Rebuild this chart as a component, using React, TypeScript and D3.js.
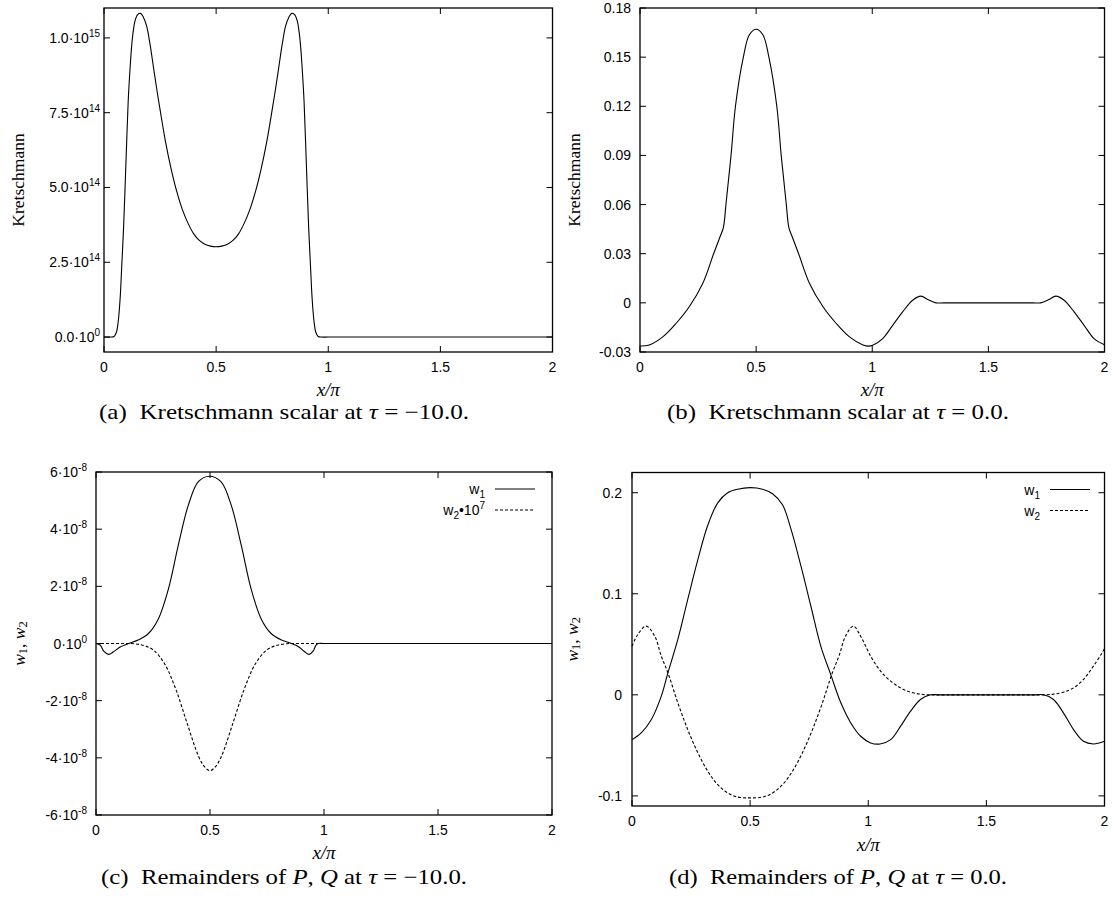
import * as d3 from "d3";
import type { ReactNode } from "react";

type Pt = [number, number];

// x axis (x / pi), shared by all four panels
const xTicks = [0, 0.5, 1, 1.5, 2];
const xTickLabels = ["0", "0.5", "1", "1.5", "2"];

// (a) Kretschmann scalar at tau = -10.0, in units of 1e14
const kretschA: Pt[] = [
  [0, 0], [0.03, 0], [0.045, 0.02], [0.055, 0.15], [0.064, 0.56], [0.072, 1.3],
  [0.079, 2.35], [0.087, 3.6], [0.094, 5.0], [0.101, 6.5], [0.108, 7.9], [0.116, 8.95],
  [0.123, 9.7], [0.13, 10.2], [0.138, 10.56], [0.15, 10.78], [0.163, 10.82], [0.175, 10.7],
  [0.19, 10.4], [0.205, 9.8], [0.22, 9.05], [0.235, 8.3], [0.25, 7.6], [0.275, 6.5],
  [0.3, 5.6], [0.325, 4.85], [0.35, 4.25], [0.375, 3.8], [0.4, 3.45], [0.425, 3.23],
  [0.45, 3.1], [0.475, 3.04], [0.5, 3.02], [0.525, 3.04], [0.55, 3.1], [0.575, 3.23],
  [0.6, 3.45], [0.625, 3.8], [0.65, 4.25], [0.675, 4.85], [0.7, 5.6], [0.725, 6.5],
  [0.75, 7.6], [0.765, 8.3], [0.78, 9.05], [0.795, 9.8], [0.81, 10.4], [0.825, 10.7],
  [0.837, 10.82], [0.85, 10.78], [0.862, 10.56], [0.87, 10.2], [0.877, 9.7], [0.884, 8.95],
  [0.892, 7.9], [0.899, 6.5], [0.906, 5.0], [0.913, 3.6], [0.921, 2.35], [0.928, 1.3],
  [0.936, 0.56], [0.945, 0.15], [0.955, 0.02], [0.97, 0], [1.0, 0], [2, 0],
];
const kretschATicks = [0, 2.5, 5, 7.5, 10];
const kretschATickLabels: [string, string][] = [
  ["0.0·10", "0"], ["2.5·10", "14"], ["5.0·10", "14"], ["7.5·10", "14"], ["1.0·10", "15"],
];

// (b) Kretschmann scalar at tau = 0.0
const kretschB: Pt[] = [
  [0, -0.0263], [0.04, -0.0257], [0.098, -0.0208], [0.155, -0.0126], [0.212, -0.0024],
  [0.27, 0.0118], [0.317, 0.03], [0.345, 0.0405], [0.359, 0.046], [0.37, 0.06],
  [0.381, 0.075], [0.392, 0.09], [0.411, 0.12], [0.445, 0.15], [0.471, 0.1637], [0.5, 0.167],
  [0.529, 0.1637], [0.555, 0.15], [0.589, 0.12], [0.608, 0.09], [0.619, 0.075], [0.63, 0.06],
  [0.641, 0.046], [0.655, 0.0405], [0.683, 0.03], [0.73, 0.0118], [0.788, -0.0024],
  [0.845, -0.0126], [0.902, -0.0208], [0.96, -0.0257], [0.985, -0.0264], [1.002, -0.0259],
  [1.045, -0.0218], [1.088, -0.0137], [1.131, -0.0055], [1.174, 0.0016], [1.21, 0.0041],
  [1.239, 0.002], [1.275, 0], [1.31, 0], [1.69, 0], [1.725, 0], [1.761, 0.002], [1.79, 0.0041],
  [1.826, 0.0016], [1.869, -0.0055], [1.912, -0.0137], [1.955, -0.0218], [2, -0.0255],
];
const kretschBTicks = [-0.03, 0, 0.03, 0.06, 0.09, 0.12, 0.15, 0.18];
const kretschBTickLabels: [string, string][] = [
  ["-0.03", ""], ["0", ""], ["0.03", ""], ["0.06", ""], ["0.09", ""], ["0.12", ""], ["0.15", ""], ["0.18", ""],
];

// (c) remainders at tau = -10.0, in units of 1e-8 (w2 already multiplied by 1e7)
const w1C: Pt[] = [
  [0, 0], [0.019, -0.06], [0.034, -0.27], [0.055, -0.38], [0.077, -0.29], [0.106, -0.12],
  [0.143, 0], [0.187, 0.13], [0.23, 0.35], [0.274, 0.87], [0.318, 1.92], [0.361, 3.44],
  [0.405, 4.84], [0.449, 5.66], [0.497, 5.85], [0.548, 5.66], [0.593, 4.84], [0.637, 3.44],
  [0.68, 1.92], [0.724, 0.87], [0.768, 0.35], [0.811, 0.13], [0.857, 0], [0.89, -0.12],
  [0.915, -0.29], [0.935, -0.38], [0.952, -0.27], [0.965, -0.06], [0.975, 0], [1.0, 0], [2, 0],
];
const w2C: Pt[] = [
  [0, 0], [0.12, 0], [0.15, 0], [0.2, -0.05], [0.25, -0.22], [0.3, -0.7], [0.35, -1.6], [0.4, -2.8],
  [0.45, -3.95], [0.475, -4.3], [0.5, -4.45], [0.525, -4.3], [0.55, -3.95], [0.6, -2.8],
  [0.65, -1.6], [0.7, -0.7], [0.75, -0.22], [0.8, -0.05], [0.85, 0], [0.88, 0], [2, 0],
];
const wCTicks = [-6, -4, -2, 0, 2, 4, 6];
const wCTickLabels: [string, string][] = [
  ["-6·10", "-8"], ["-4·10", "-8"], ["-2·10", "-8"], ["0·10", "0"], ["2·10", "-8"], ["4·10", "-8"], ["6·10", "-8"],
];

// (d) remainders at tau = 0.0
const w1D: Pt[] = [
  [0, -0.0443], [0.039, -0.0377], [0.082, -0.0244], [0.124, -0.0013], [0.152, 0.0218],
  [0.194, 0.0548], [0.236, 0.0945], [0.279, 0.134], [0.321, 0.168], [0.363, 0.19],
  [0.405, 0.2], [0.447, 0.2035], [0.5, 0.205], [0.553, 0.2035], [0.595, 0.199], [0.637, 0.188],
  [0.673, 0.164], [0.715, 0.1275], [0.757, 0.0879], [0.799, 0.0482], [0.841, 0.0202],
  [0.884, -0.0079], [0.926, -0.0278], [0.968, -0.041], [1.01, -0.0476], [1.05, -0.0486],
  [1.095, -0.0443], [1.137, -0.031], [1.179, -0.0162], [1.221, -0.0046], [1.264, 0],
  [1.3, 0], [1.7, 0], [1.742, 0], [1.784, -0.0046], [1.826, -0.0178], [1.869, -0.0344],
  [1.911, -0.046], [1.953, -0.0486], [2, -0.046],
];
const w2D: Pt[] = [
  [0, 0.0482], [0.025, 0.0598], [0.06, 0.068], [0.096, 0.0581], [0.124, 0.0383], [0.152, 0.0218],
  [0.194, -0.0079], [0.236, -0.0344], [0.279, -0.0575], [0.321, -0.0757], [0.363, -0.0889],
  [0.405, -0.0971], [0.447, -0.1011], [0.5, -0.102], [0.553, -0.1011], [0.595, -0.0971],
  [0.637, -0.0889], [0.679, -0.0757], [0.721, -0.0575], [0.764, -0.0344], [0.806, -0.0079],
  [0.848, 0.0218], [0.876, 0.0383], [0.904, 0.0581], [0.937, 0.068], [0.968, 0.058],
  [1.01, 0.0383], [1.052, 0.0235], [1.095, 0.0135], [1.137, 0.0069], [1.179, 0.0026],
  [1.221, 0.0007], [1.25, 0], [1.3, 0], [1.7, 0], [1.75, 0], [1.784, 0.0007], [1.826, 0.0026],
  [1.869, 0.0069], [1.911, 0.0152], [1.953, 0.0284], [1.99, 0.0416], [2, 0.046],
];
const wDTicks = [-0.1, 0, 0.1, 0.2];
const wDTickLabels: [string, string][] = [["-0.1", ""], ["0", ""], ["0.1", ""], ["0.2", ""]];

const SANS = "'Liberation Sans', Arial, Helvetica, sans-serif";
const SERIF = "'Liberation Serif', 'Times New Roman', serif";
const TICK = 6;

interface Series {
  data: Pt[];
  dashed: boolean;
  legend?: ReactNode;
}

interface PanelProps {
  box: { left: number; right: number; top: number; bottom: number };
  yDomain: [number, number];
  yTicks: number[];
  yTickLabels: [string, string][];
  labelEnd: number;
  series: Series[];
  yLabel: ReactNode;
  yLabelX: number;
  xLabelY: number;
  legendX?: number;
  caption: ReactNode;
  captionX: number;
  captionY: number;
  captionW: number;
}

function Panel(p: PanelProps) {
  const { box } = p;
  const x = d3.scaleLinear().domain([0, 2]).range([box.left, box.right]);
  const y = d3.scaleLinear().domain(p.yDomain).range([box.bottom, box.top]);
  const line = d3
    .line<Pt>()
    .x((d) => x(d[0]))
    .y((d) => y(d[1]))
    .curve(d3.curveCatmullRom.alpha(0.5));
  const midY = (box.top + box.bottom) / 2;
  const midX = (box.left + box.right) / 2;

  return (
    <g>
      {/* series */}
      {p.series.map((s, i) => (
        <path
          key={i}
          d={line(s.data) || ""}
          fill="none"
          stroke="#000"
          strokeWidth={1.1}
          strokeDasharray={s.dashed ? "3,2" : undefined}
        />
      ))}

      {/* ticks on all four sides */}
      {xTicks.map((t) => (
        <g key={"xt" + t}>
          <line x1={x(t)} x2={x(t)} y1={box.bottom} y2={box.bottom - TICK} stroke="#000" />
          <line x1={x(t)} x2={x(t)} y1={box.top} y2={box.top + TICK} stroke="#000" />
        </g>
      ))}
      {p.yTicks.map((t) => (
        <g key={"yt" + t}>
          <line x1={box.left} x2={box.left + TICK} y1={y(t)} y2={y(t)} stroke="#000" />
          <line x1={box.right} x2={box.right - TICK} y1={y(t)} y2={y(t)} stroke="#000" />
        </g>
      ))}

      <rect
        x={box.left}
        y={box.top}
        width={box.right - box.left}
        height={box.bottom - box.top}
        fill="none"
        stroke="#000"
        strokeWidth={1.3}
      />

      {/* tick labels */}
      {xTicks.map((t, i) => (
        <text
          key={"xl" + t}
          x={x(t)}
          y={box.bottom + 20}
          textAnchor="middle"
          fontFamily={SANS}
          fontSize={14}
        >
          {xTickLabels[i]}
        </text>
      ))}
      {p.yTicks.map((t, i) => {
        const [base, sup] = p.yTickLabels[i];
        return (
          <text
            key={"yl" + t}
            x={p.labelEnd}
            y={y(t) + 5}
            textAnchor="end"
            fontFamily={SANS}
            fontSize={14}
          >
            {base}
            {sup ? (
              <tspan dy={-6} fontSize={10}>
                {sup}
              </tspan>
            ) : null}
          </text>
        );
      })}

      {/* axis titles */}
      <text
        transform={`translate(${p.yLabelX},${midY}) rotate(-90)`}
        textAnchor="middle"
        dominantBaseline="central"
        fontFamily={SERIF}
        fontSize={17.5}
      >
        {p.yLabel}
      </text>
      <text
        x={midX}
        y={p.xLabelY}
        textAnchor="middle"
        fontFamily={SERIF}
        fontStyle="italic"
        fontSize={19}
      >
        x/π
      </text>

      {/* legend */}
      {p.legendX !== undefined &&
        p.series.map((s, i) => (
          <g key={"lg" + i}>
            <text
              x={p.legendX}
              y={box.top + 17 + i * 21 + 5}
              textAnchor="end"
              fontFamily={SANS}
              fontSize={14}
            >
              {s.legend}
            </text>
            <line
              x1={p.legendX! + 10}
              x2={p.legendX! + 50}
              y1={box.top + 17 + i * 21}
              y2={box.top + 17 + i * 21}
              stroke="#000"
              strokeWidth={1.1}
              strokeDasharray={s.dashed ? "3,2" : undefined}
            />
          </g>
        ))}

      {/* caption */}
      <text
        x={p.captionX}
        y={p.captionY}
        textAnchor="middle"
        fontFamily={SERIF}
        fontSize={21}
        textLength={p.captionW}
        lengthAdjust="spacingAndGlyphs"
        style={{ whiteSpace: "pre" }}
      >
        {p.caption}
      </text>
    </g>
  );
}

const kretschLabel = "Kretschmann";
const wLabel = (
  <>
    <tspan fontStyle="italic">w</tspan>
    <tspan dy={4} fontSize="0.72em">1</tspan>
    <tspan dy={-4}>, </tspan>
    <tspan fontStyle="italic">w</tspan>
    <tspan dy={4} fontSize="0.72em">2</tspan>
  </>
);

const legendW1 = (
  <>
    {"w"}
    <tspan dy={4} fontSize={10}>1</tspan>
  </>
);
const legendW2 = (
  <>
    {"w"}
    <tspan dy={4} fontSize={10}>2</tspan>
  </>
);
const legendW2Scaled = (
  <>
    {"w"}
    <tspan dy={4} fontSize={10}>2</tspan>
    <tspan dy={-4}>•10</tspan>
    <tspan dy={-6} fontSize={10}>7</tspan>
  </>
);

export default function App() {
  return (
    <svg
      width={1117}
      height={904}
      viewBox="0 0 1117 904"
      style={{ position: "absolute", left: 0, top: 0, background: "#fff" }}
    >
      <Panel
        box={{ left: 104, right: 552.5, top: 8, bottom: 352 }}
        yDomain={[-0.5, 11]}
        yTicks={kretschATicks}
        yTickLabels={kretschATickLabels}
        labelEnd={100}
        series={[{ data: kretschA, dashed: false }]}
        yLabel={kretschLabel}
        yLabelX={18}
        xLabelY={396}
        caption={
          <>
            {"(a)  Kretschmann scalar at "}
            <tspan fontStyle="italic">τ</tspan>
            {" = −10.0."}
          </>
        }
        captionX={284}
        captionY={419}
        captionW={370}
      />
      <Panel
        box={{ left: 640, right: 1104.5, top: 8, bottom: 352 }}
        yDomain={[-0.03, 0.18]}
        yTicks={kretschBTicks}
        yTickLabels={kretschBTickLabels}
        labelEnd={631}
        series={[{ data: kretschB, dashed: false }]}
        yLabel={kretschLabel}
        yLabelX={574}
        xLabelY={396}
        caption={
          <>
            {"(b)  Kretschmann scalar at "}
            <tspan fontStyle="italic">τ</tspan>
            {" = 0.0."}
          </>
        }
        captionX={838}
        captionY={419}
        captionW={342}
      />
      <Panel
        box={{ left: 96, right: 552, top: 472, bottom: 815 }}
        yDomain={[-6, 6]}
        yTicks={wCTicks}
        yTickLabels={wCTickLabels}
        labelEnd={87}
        series={[
          { data: w1C, dashed: false, legend: legendW1 },
          { data: w2C, dashed: true, legend: legendW2Scaled },
        ]}
        yLabel={wLabel}
        yLabelX={19}
        xLabelY={859}
        legendX={485}
        caption={
          <>
            {"(c)  Remainders of "}
            <tspan fontStyle="italic">P</tspan>
            {", "}
            <tspan fontStyle="italic">Q</tspan>
            {" at "}
            <tspan fontStyle="italic">τ</tspan>
            {" = −10.0."}
          </>
        }
        captionX={284}
        captionY={884}
        captionW={366}
      />
      <Panel
        box={{ left: 632, right: 1104.5, top: 472.5, bottom: 806 }}
        yDomain={[-0.11, 0.22]}
        yTicks={wDTicks}
        yTickLabels={wDTickLabels}
        labelEnd={622}
        series={[
          { data: w1D, dashed: false, legend: legendW1 },
          { data: w2D, dashed: true, legend: legendW2 },
        ]}
        yLabel={wLabel}
        yLabelX={572}
        xLabelY={851}
        legendX={1040}
        caption={
          <>
            {"(d)  Remainders of "}
            <tspan fontStyle="italic">P</tspan>
            {", "}
            <tspan fontStyle="italic">Q</tspan>
            {" at "}
            <tspan fontStyle="italic">τ</tspan>
            {" = 0.0."}
          </>
        }
        captionX={838}
        captionY={884}
        captionW={338}
      />
    </svg>
  );
}
